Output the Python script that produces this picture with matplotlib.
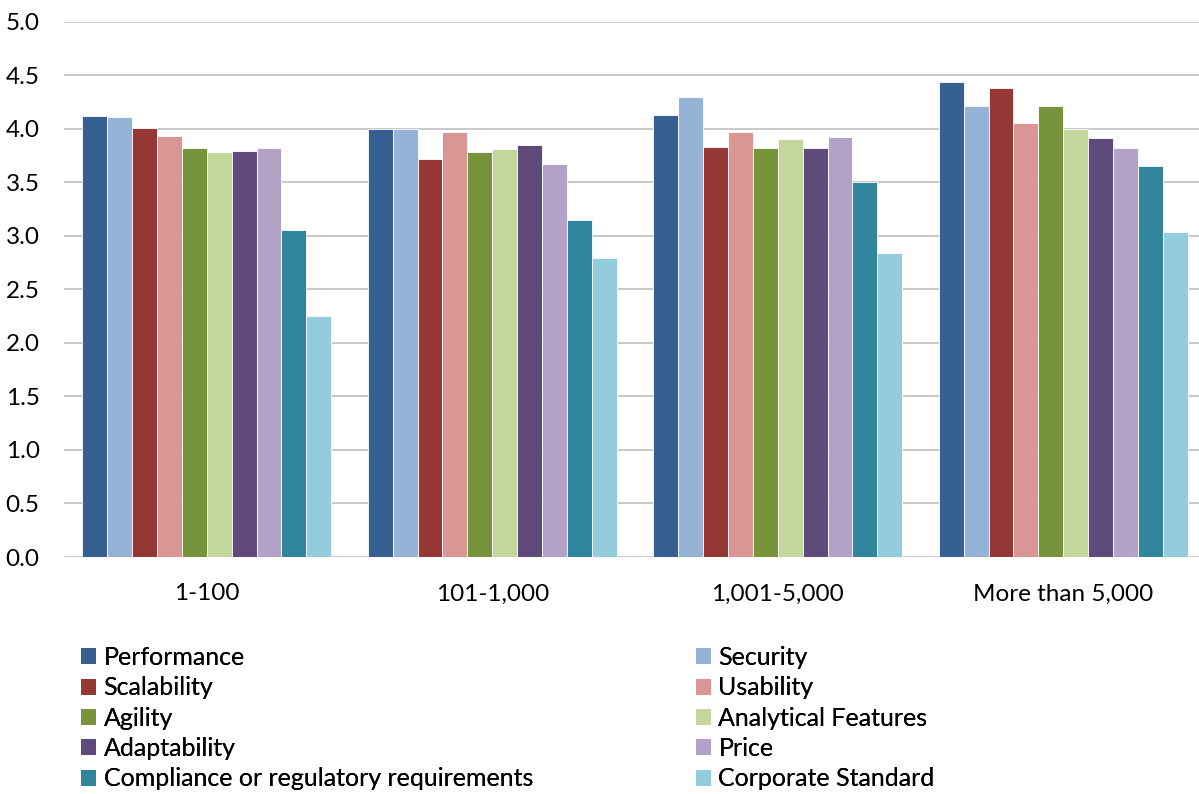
import numpy as np
import matplotlib.pyplot as plt
from matplotlib.patches import Patch

plt.rcParams['font.family'] = ['Lato', 'DejaVu Sans']

groups = ['1-100', '101-1,000', '1,001-5,000', 'More than 5,000']
factors = ['Performance', 'Security', 'Scalability', 'Usability', 'Agility',
           'Analytical Features', 'Adaptability', 'Price',
           'Compliance or regulatory requirements', 'Corporate Standard']

performance = [4.12, 4.00, 4.13, 4.44]
security = [4.11, 4.00, 4.30, 4.21]
scalability = [4.01, 3.72, 3.83, 4.38]
usability = [3.93, 3.97, 3.97, 4.05]
agility = [3.82, 3.78, 3.82, 4.21]
analytical = [3.78, 3.81, 3.90, 4.00]
adaptability = [3.79, 3.85, 3.82, 3.91]
price = [3.82, 3.67, 3.92, 3.82]
compliance = [3.05, 3.15, 3.50, 3.65]
corporate = [2.25, 2.79, 2.84, 3.04]

series = [performance, security, scalability, usability, agility,
          analytical, adaptability, price, compliance, corporate]
colors = ['#366092', '#95B3D7', '#953735', '#D99694', '#77933C',
          '#C3D69B', '#604A7B', '#B3A2C7', '#31859C', '#93CDDD']

W, H = 1199, 794
fs = 17.5
fig = plt.figure(figsize=(W / 100, H / 100), dpi=100)
ax = fig.add_axes([64 / W, (H - 557) / H, 1142 / W, (557 - 21.7) / H])

x = np.arange(len(groups))
bw = 0.0872
for i, (vals, c) in enumerate(zip(series, colors)):
    ax.bar(x + (i - 4.5) * bw, vals, bw, color=c, edgecolor='white',
           linewidth=0.6, zorder=3)

ax.set_xlim(-0.5, len(groups) - 0.5)
ax.set_ylim(0, 5)
ax.set_yticks(np.arange(0, 5.01, 0.5))
ax.set_yticklabels([f'{v:.1f}' for v in np.arange(0, 5.01, 0.5)])
ax.set_xticks(x)
ax.set_xticklabels(groups)
ax.grid(axis='y', color='#c0c0c0', linewidth=1.2, zorder=0)
ax.tick_params(axis='both', length=0, labelsize=fs, colors='black')
ax.tick_params(axis='y', pad=17.5)
ax.tick_params(axis='x', pad=19)
for s in ax.spines.values():
    s.set_visible(False)

# two legend columns, filled row by row
handles = [Patch(facecolor=c, edgecolor='none') for c in colors]
for col, xpos in enumerate([81 / W, 696 / W]):
    hs = handles[col::2]
    ls = factors[col::2]
    leg = fig.legend(hs, ls, loc='upper left', bbox_to_anchor=(xpos, 1 - 646 / H),
                     frameon=False, fontsize=18, handlelength=0.6,
                     handleheight=0.6, handletextpad=0.3, labelspacing=0.295,
                     borderpad=0, borderaxespad=0)
    fig.add_artist(leg)

fig.savefig('out.png', dpi=100)
